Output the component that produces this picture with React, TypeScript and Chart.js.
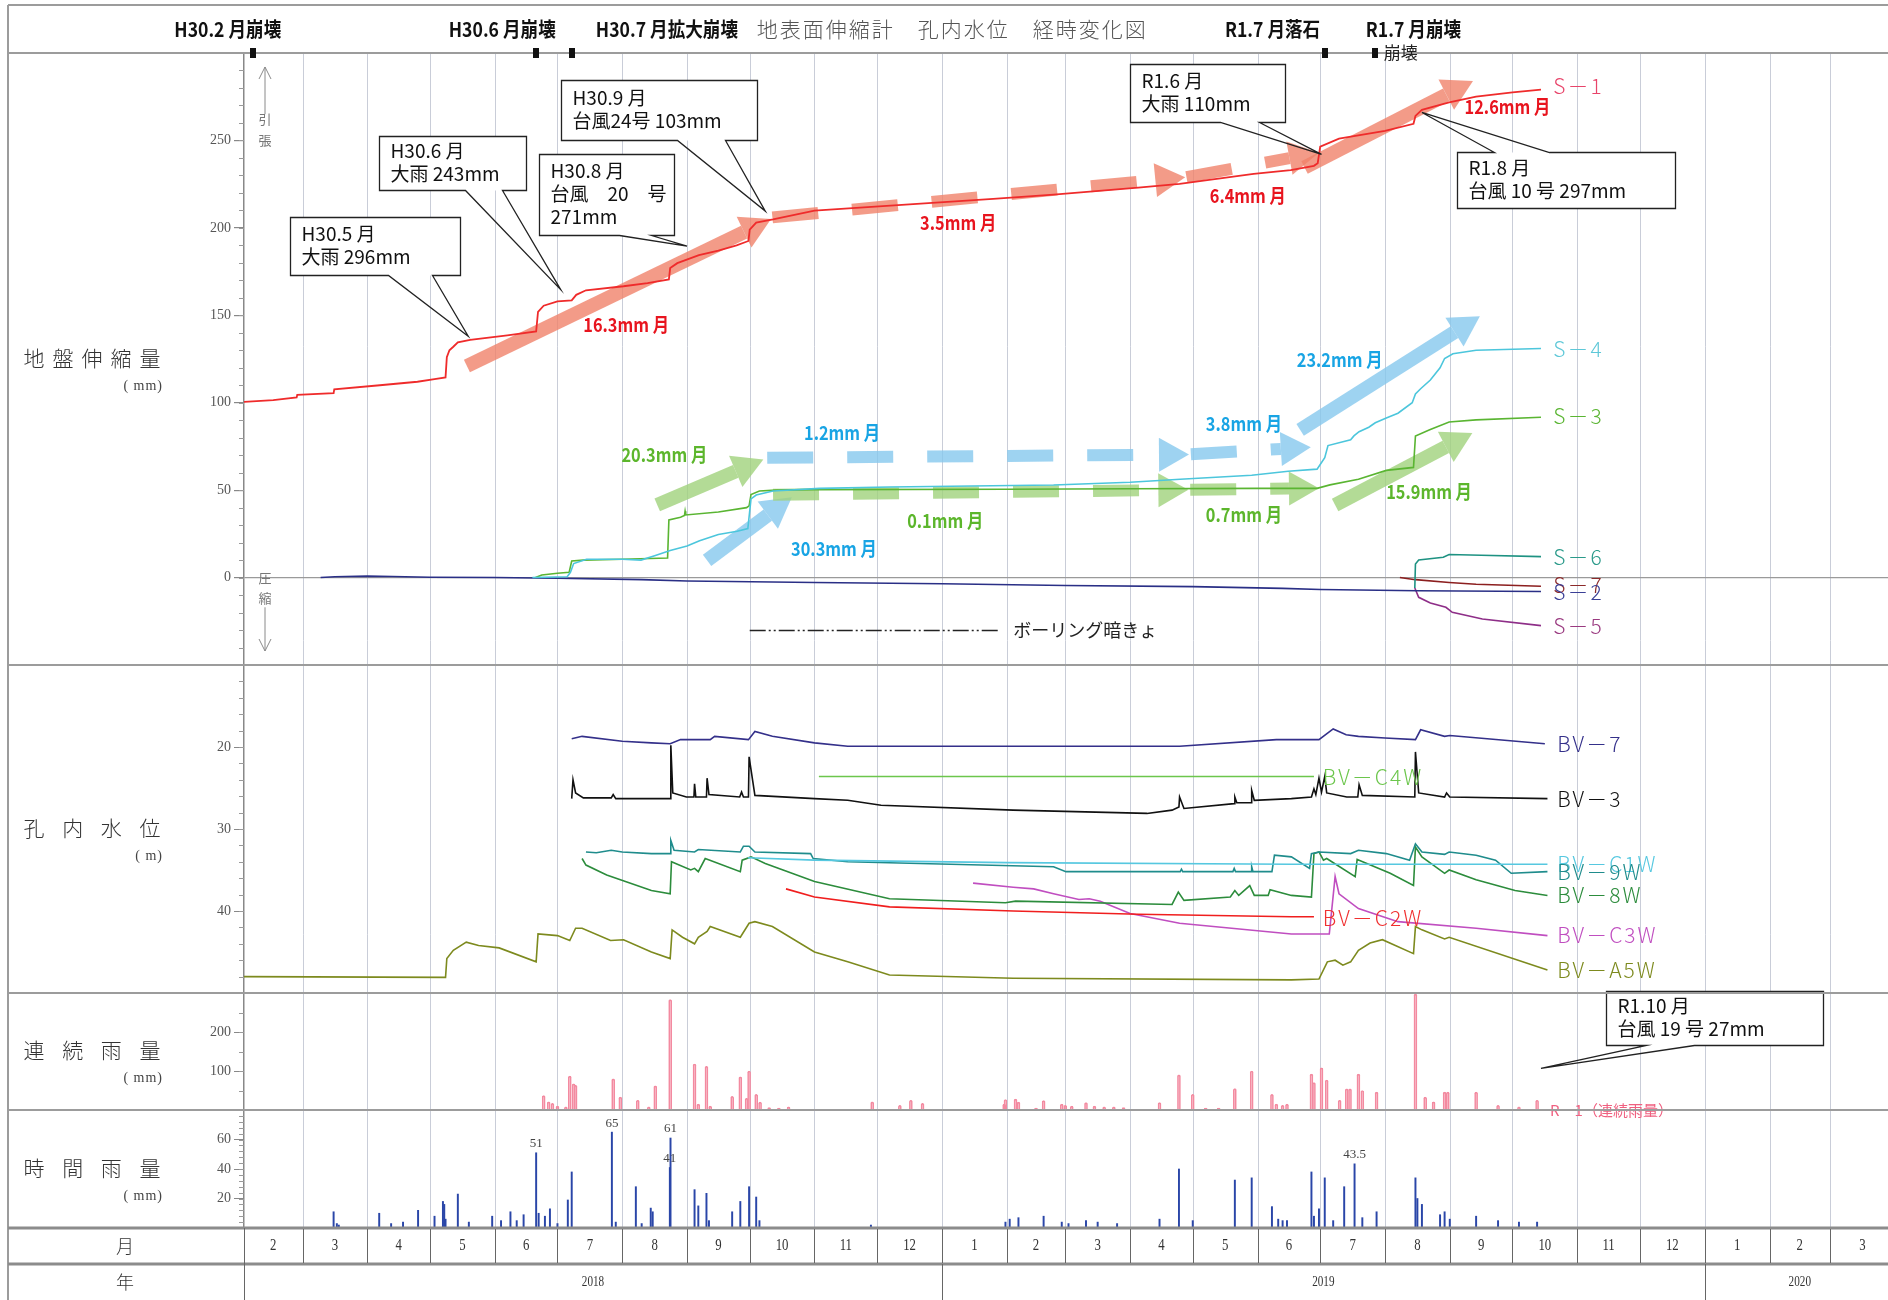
import { useEffect, useRef } from 'react';
import { Chart, registerables } from 'chart.js';

Chart.register(...registerables);
Chart.defaults.font.family = 'Liberation Serif';

type Pt = [number, number];

// x values are months counted from 1 Feb 2018 (0 = Feb 2018, 11 = Jan 2019, 23 = Jan 2020)
const MONTH_LABELS = ['2', '3', '4', '5', '6', '7', '8', '9', '10', '11', '12', '1', '2', '3', '4', '5', '6', '7', '8', '9', '10', '11', '12', '1', '2', '3'];
const YEAR_LABELS = ['2018', '2019', '2020'];
const YEAR_STARTS = [0, 11, 23, 26];

const GROUND_TICKS = [0, 50, 100, 150, 200, 250];
const WATER_TICKS = [20, 30, 40];
const CONT_RAIN_TICKS = [100, 200];
const HOURLY_TICKS = [20, 40, 60];

// 地盤伸縮量 (mm)
const S1: Pt[] = [
  [0, 100.5], [0.5, 101.5], [0.9, 103], [0.91, 104.5], [1.48, 105.5], [1.49, 107.7], [2.2, 110], [2.8, 112], [3.07, 113.5],
  [3.24, 114.5], [3.26, 126], [3.3, 130], [3.36, 132], [3.43, 134.5], [3.62, 136], [4.2, 138.5], [4.66, 140.8], [4.69, 152],
  [4.78, 155.5], [5.0, 158], [5.22, 158.5], [5.29, 161.7], [5.44, 164.3], [6.02, 166.6], [6.39, 168.4], [6.72, 170.5],
  [6.74, 177], [6.85, 179.8], [7.19, 184.4], [7.5, 187], [7.79, 190], [7.98, 192.5], [8.0, 199], [8.1, 203], [8.36, 204.8],
  [9.0, 209.8], [10.32, 213], [11.79, 216.6], [12.8, 219], [14.13, 223], [14.79, 225.2], [15.94, 230.9], [16.53, 233],
  [16.9, 235.5], [16.96, 237], [17.0, 246.5], [17.29, 251], [18.0, 255.5], [18.44, 259.5], [18.47, 264], [18.57, 267.5],
  [18.99, 271.8], [19.42, 275], [20.0, 277.5], [20.44, 279],
];
const S4: Pt[] = [
  [4.6, 0], [5.15, 0.5], [5.2, 3], [5.25, 8], [5.45, 10.5], [6.0, 10.5], [6.29, 10], [6.5, 12.5], [6.74, 15.5], [7.0, 18],
  [7.2, 21], [7.5, 24.6], [7.8, 26.5], [7.97, 28], [8.02, 45], [8.1, 47.2], [8.36, 49.5], [9.08, 51], [10.19, 51.8],
  [12.8, 52.9], [14.0, 54.5], [14.8, 56.2], [15.91, 58.5], [16.49, 60.8], [16.95, 62], [17.07, 68.6], [17.12, 75.5],
  [17.47, 78.8], [17.52, 81], [17.6, 83.4], [17.75, 86], [17.85, 88.5], [18.02, 91.3], [18.2, 94], [18.42, 100],
  [18.47, 105], [18.55, 108], [18.7, 113], [18.85, 120], [18.92, 125.3], [19.05, 128], [19.42, 130], [20.44, 131],
];
const S3: Pt[] = [
  [4.65, 0], [4.75, 1.5], [5.0, 2.5], [5.18, 3], [5.22, 9.5], [5.4, 10], [6.0, 10.5], [6.7, 11.2], [6.72, 33], [6.9, 34.5],
  [6.96, 35.5], [6.97, 38], [6.98, 35.8], [7.5, 37.5], [7.95, 40], [7.99, 41], [8.02, 47.5], [8.15, 49.5], [8.4, 50],
  [9.0, 50.3], [12.0, 50.5], [14.0, 50.8], [16.0, 51], [16.95, 51], [17.15, 53], [17.59, 56.2], [18.02, 61.3], [18.44, 63],
  [18.47, 81], [18.69, 84.5], [18.99, 89], [19.42, 90.2], [20.44, 91.7],
];
const S2: Pt[] = [
  [1.28, 0], [1.5, 0.5], [2.0, 0.8], [2.4, 0.6], [3.0, 0.2], [4.0, 0], [5.0, -0.4], [6.3, -1.2], [7.0, -2.0], [9.0, -2.8],
  [11.0, -3.5], [13.0, -4.5], [15.0, -5.2], [16.4, -6.2], [17.0, -6.8], [18.5, -7.5], [20.44, -8.0],
];
const S7: Pt[] = [[18.23, 0], [18.47, -1.2], [18.99, -2.8], [19.42, -3.8], [20.44, -5.0]];
const S6: Pt[] = [[18.46, -6], [18.47, 7.8], [18.52, 10.1], [18.9, 11.6], [18.99, 13.2], [19.5, 12.8], [20.44, 12]];
const S5: Pt[] = [[18.46, -6], [18.52, -11.3], [18.7, -14.5], [18.94, -17], [19.04, -19.9], [19.52, -23.7], [20.44, -27.5]];

// 孔内水位 (m, depth)
const BV7: Pt[] = [
  [5.22, 19.0], [5.38, 18.7], [6.0, 19.3], [6.45, 19.5], [6.74, 19.6], [6.9, 19.1], [7.37, 19.1], [7.44, 18.7],
  [7.98, 19.1], [8.08, 18.1], [8.35, 18.7], [9.0, 19.5], [9.53, 19.9], [14.79, 19.9], [16.3, 19.1], [16.98, 19.1],
  [17.2, 17.8], [17.4, 18.5], [17.59, 18.7], [18.0, 18.9], [18.47, 19.1], [18.55, 17.9], [18.92, 18.7], [19.0, 18.6],
  [20.5, 19.6],
];
const BV3: Pt[] = [
  [5.22, 26.3], [5.24, 24.0], [5.28, 25.6], [5.4, 26.2], [5.83, 26.2], [5.86, 25.8], [5.9, 26.3], [6.74, 26.3], [6.75, 19.8],
  [6.78, 25.6], [6.99, 26.1], [7.11, 26.1], [7.12, 24.5], [7.14, 26.1], [7.31, 26.1], [7.32, 23.8], [7.35, 25.8],
  [7.84, 26.1], [7.87, 25.5], [7.9, 26.1], [7.98, 26.1], [7.99, 21.2], [8.08, 25.9], [9.0, 26.3], [9.53, 26.5],
  [10.06, 27.1], [12.11, 27.7], [14.27, 28.1], [14.67, 27.7], [14.78, 27.3], [14.79, 26.1], [14.86, 27.5], [15.64, 26.9],
  [15.65, 26.1], [15.68, 26.8], [15.9, 26.8], [15.91, 25.3], [15.95, 26.5], [16.54, 26.3], [16.86, 26.1], [16.9, 25.1],
  [16.93, 25.8], [16.98, 23.8], [17.02, 25.5], [17.07, 23.6], [17.1, 25.6], [17.41, 26.1], [17.58, 26.1], [17.6, 24.6],
  [17.65, 25.9], [18.46, 26.1], [18.47, 20.6], [18.52, 25.6], [18.92, 26.1], [18.95, 25.6], [19.0, 26.1], [20.54, 26.3],
];
const BVC4W: Pt[] = [[9.07, 23.6], [16.9, 23.6]];
const BV9W: Pt[] = [
  [5.44, 32.8], [5.6, 32.9], [5.83, 32.6], [6.0, 32.8], [6.45, 33.0], [6.74, 33.0], [6.75, 31.4], [6.8, 32.6], [7.12, 32.8],
  [7.18, 32.5], [7.85, 32.8], [7.9, 32.1], [7.99, 32.1], [8.08, 32.8], [8.94, 33.0], [8.98, 33.6], [9.53, 34.0], [12.8, 34.6],
  [13.01, 35.2], [14.8, 35.2], [14.82, 34.9], [14.84, 35.2], [15.62, 35.2], [15.64, 34.8], [15.66, 35.2], [15.9, 35.2],
  [15.91, 34.6], [15.93, 35.2], [16.23, 35.2], [16.27, 33.2], [16.54, 33.4], [16.83, 34.8], [16.86, 33.0], [16.98, 32.8],
  [17.47, 33.0], [17.59, 32.6], [18.02, 33.0], [18.38, 33.8], [18.47, 31.8], [18.57, 32.8], [18.92, 33.1], [18.99, 32.8],
  [19.42, 33.2], [19.73, 33.8], [19.98, 35.4], [20.54, 35.2],
];
const BVC1W: Pt[] = [[7.97, 33.5], [9.0, 33.8], [12.0, 34.1], [16.54, 34.3], [20.54, 34.3]];
const BV8W: Pt[] = [
  [5.38, 33.6], [5.44, 34.4], [5.76, 35.6], [6.45, 37.5], [6.74, 37.9], [6.76, 34.0], [7.06, 35.0], [7.12, 34.8],
  [7.18, 35.2], [7.29, 33.6], [7.85, 35.2], [7.88, 33.8], [8.02, 33.4], [8.24, 34.2], [9.0, 36.4], [10.19, 38.5],
  [11.98, 39.0], [12.15, 38.8], [14.67, 39.2], [14.77, 37.7], [14.86, 38.7], [15.58, 38.3], [15.65, 37.5], [15.71, 38.1],
  [15.88, 36.9], [15.95, 38.1], [16.17, 38.1], [16.2, 37.4], [16.54, 38.1], [16.86, 38.3], [16.9, 33.0], [16.98, 32.8],
  [17.05, 33.8], [17.1, 33.6], [17.54, 35.8], [17.57, 33.7], [17.6, 33.8], [18.08, 35.4], [18.44, 36.9], [18.47, 32.2],
  [18.57, 33.4], [18.92, 35.4], [18.99, 35.0], [19.42, 36.2], [20.04, 37.5], [20.54, 38.1],
];
const BVC2W: Pt[] = [[8.56, 37.3], [9.0, 38.3], [10.19, 39.5], [12.11, 40.0], [14.13, 40.4], [16.54, 40.7], [16.9, 40.7]];
const BVC3W: Pt[] = [
  [11.48, 36.6], [12.11, 37.1], [12.46, 37.3], [12.8, 37.9], [13.21, 38.6], [13.37, 38.5], [13.54, 38.8], [14.0, 40.3],
  [14.79, 41.5], [16.54, 42.8], [17.14, 42.8], [17.23, 35.8], [17.29, 37.9], [17.59, 39.7], [18.2, 41.3], [19.42, 42.1],
  [20.54, 43.0],
];
const BVA5W: Pt[] = [
  [0, 48.0], [3.24, 48.1], [3.26, 45.8], [3.36, 44.8], [3.56, 43.8], [3.75, 44.2], [4.07, 44.5], [4.66, 46.2], [4.69, 42.8],
  [5.0, 43.0], [5.19, 43.6], [5.28, 42.1], [5.38, 42.1], [5.82, 43.6], [6.02, 43.5], [6.45, 45.0], [6.74, 45.8],
  [6.77, 42.3], [6.93, 43.2], [7.12, 44.0], [7.18, 43.2], [7.32, 42.5], [7.37, 41.9], [7.85, 43.2], [7.99, 41.5],
  [8.08, 41.3], [8.35, 41.9], [9.0, 45.0], [9.53, 46.2], [10.19, 47.8], [12.11, 48.2], [16.54, 48.4], [16.98, 48.3],
  [17.11, 46.2], [17.23, 46.0], [17.35, 46.6], [17.47, 46.2], [17.59, 44.8], [17.77, 43.9], [17.96, 43.5], [18.44, 45.2],
  [18.47, 41.9], [18.57, 42.3], [18.92, 43.4], [18.99, 43.2], [20.54, 47.2],
];

// 連続雨量 (mm)
const CONT_RAIN: Pt[] = [
  [4.78, 37], [4.86, 21], [4.92, 17], [5.0, 10], [5.13, 8], [5.19, 87], [5.25, 67], [5.28, 63], [5.86, 80], [5.97, 33],
  [6.24, 25], [6.41, 8], [6.51, 62], [6.74, 283], [7.12, 118], [7.18, 15], [7.31, 112], [7.37, 10], [7.72, 35], [7.85, 85],
  [7.95, 30], [7.99, 100], [8.1, 40], [8.16, 20], [8.3, 6], [8.45, 5], [8.6, 8], [9.92, 21], [10.35, 12], [10.52, 25],
  [10.7, 17], [11.96, 15], [11.98, 27], [12.15, 28], [12.2, 20], [12.5, 5], [12.63, 24], [12.94, 15], [13.0, 12],
  [13.1, 10], [13.32, 19], [13.45, 10], [13.6, 8], [13.75, 8], [13.9, 6], [14.47, 19], [14.78, 90], [15.0, 40], [15.2, 5],
  [15.4, 5], [15.65, 55], [15.91, 100], [16.23, 40], [16.3, 15], [16.4, 12], [16.47, 15], [16.86, 92], [16.9, 70],
  [17.02, 108], [17.1, 77], [17.3, 25], [17.41, 54], [17.46, 54], [17.59, 92], [17.65, 50], [17.87, 46], [18.47, 297],
  [18.62, 33], [18.75, 21], [18.92, 46], [18.97, 46], [19.42, 46], [19.77, 12], [20.1, 8], [20.38, 25],
];

// 時間雨量 (mm)
const HOURLY_RAIN: Pt[] = [
  [1.48, 11], [1.53, 3], [1.56, 2], [2.19, 10], [2.38, 3], [2.57, 4], [2.81, 12], [3.07, 8], [3.2, 18], [3.22, 16],
  [3.24, 6], [3.43, 23], [3.6, 4], [3.96, 8], [4.1, 5], [4.25, 11], [4.35, 5], [4.46, 9], [4.66, 51], [4.7, 10], [4.8, 8],
  [4.88, 13], [5.0, 3], [5.16, 19], [5.22, 38], [5.84, 65], [5.9, 4], [6.21, 28], [6.3, 3], [6.44, 13.5], [6.47, 11],
  [6.735, 41], [6.745, 61], [7.12, 26], [7.18, 15], [7.31, 23.5], [7.35, 5], [7.72, 11], [7.85, 18], [7.99, 28], [8.1, 21],
  [8.15, 5], [9.9, 2], [11.98, 4], [12.05, 6], [12.2, 7], [12.63, 8], [12.94, 4], [13.05, 3], [13.32, 5], [13.5, 4],
  [13.8, 3], [14.47, 6], [14.78, 40], [15.0, 5], [15.65, 32.5], [15.91, 34], [16.23, 14.5], [16.33, 6], [16.4, 5],
  [16.47, 5], [16.86, 38], [16.9, 8], [16.98, 13], [17.07, 34], [17.2, 5], [17.37, 28], [17.53, 43.5], [17.65, 7],
  [17.87, 11], [18.47, 34], [18.5, 20], [18.57, 16], [18.85, 9], [18.92, 11], [19.0, 6], [19.42, 8], [19.77, 5],
  [20.1, 4], [20.38, 4],
];
const HOURLY_LABELLED = [51, 65, 61, 41, 43.5];

// header events (崩壊 / 落石)
const EVENT_MARKS = [0.15, 4.65, 5.22, 17.08, 17.85];
const EVENT_TEXTS = [
  { text: 'H30.2 月崩壊', at: -0.25 },
  { text: 'H30.6 月崩壊', at: 4.12 },
  { text: 'H30.7 月拡大崩壊', at: 6.69 },
  { text: 'R1.7 月落石', at: 16.24 },
  { text: 'R1.7 月崩壊', at: 18.44 },
];

const RED_A = '#f0826a';
const BLUE_A = '#86c8ee';
const GREEN_A = '#a0d27c';
const RED_T = '#e8141e';
const BLUE_T = '#18a4e4';
const GREEN_T = '#5cb62c';

// trend arrows on the ground-movement panel (month, mm)
const TREND_ARROWS = [
  { from: [3.57, 121], to: [8.33, 205], color: RED_A, dashed: false },
  { from: [8.35, 206], to: [14.88, 229], color: RED_A, dashed: true },
  { from: [14.9, 229], to: [16.98, 243], color: RED_A, dashed: true },
  { from: [16.75, 234.5], to: [19.37, 284], color: RED_A, dashed: false },
  { from: [7.32, 9.8], to: [8.65, 46], color: BLUE_A, dashed: false },
  { from: [8.27, 68.5], to: [14.94, 70.4], color: BLUE_A, dashed: true },
  { from: [14.97, 70.5], to: [16.85, 74.6], color: BLUE_A, dashed: true },
  { from: [16.68, 84.5], to: [19.48, 149.5], color: BLUE_A, dashed: false },
  { from: [6.54, 41.6], to: [8.21, 67.5], color: GREEN_A, dashed: false },
  { from: [8.36, 47.4], to: [14.93, 50.2], color: GREEN_A, dashed: true },
  { from: [14.96, 50.2], to: [16.98, 51.1], color: GREEN_A, dashed: true },
  { from: [17.23, 41.5], to: [19.36, 82.7], color: GREEN_A, dashed: false },
];
const TREND_LABELS = [
  { text: '16.3mm 月', at: [6.06, 144.3], color: RED_T },
  { text: '3.5mm 月', at: [11.25, 203], color: RED_T },
  { text: '6.4mm 月', at: [15.85, 218.2], color: RED_T },
  { text: '12.6mm 月', at: [19.92, 269.3], color: RED_T },
  { text: '20.3mm 月', at: [6.65, 70.4], color: GREEN_T },
  { text: '1.2mm 月', at: [9.44, 82.9], color: BLUE_T },
  { text: '30.3mm 月', at: [9.31, 16.6], color: BLUE_T },
  { text: '0.1mm 月', at: [11.05, 32.5], color: GREEN_T },
  { text: '3.8mm 月', at: [15.79, 87.7], color: BLUE_T },
  { text: '0.7mm 月', at: [15.79, 35.9], color: GREEN_T },
  { text: '23.2mm 月', at: [17.3, 124.3], color: BLUE_T },
  { text: '15.9mm 月', at: [18.68, 49], color: GREEN_T },
];

// callouts: tip in data units, box = [dx, dy, w, h] from the tip in px, base = wedge roots along the box edge
const CALLOUTS = [
  { axis: 'yG', tip: [3.59, 138], box: [-178, -119, 170, 58], base: [98, 142], side: 'bottom', lines: ['H30.5 月', '大雨 296mm'] },
  { axis: 'yG', tip: [5.05, 164.7], box: [-182, -154, 147, 54], base: [86, 123], side: 'bottom', lines: ['H30.6 月', '大雨 243mm'] },
  { axis: 'yG', tip: [7.0, 189.5], box: [-148, -92, 135, 81], base: [80, 112], side: 'bottom', lines: ['H30.8 月', '台風　20　号', '271mm'] },
  { axis: 'yG', tip: [8.24, 209.6], box: [-204, -131, 196, 60], base: [116, 164], side: 'bottom', lines: ['H30.9 月', '台風24号 103mm'] },
  { axis: 'yG', tip: [17.02, 242], box: [-192, -90, 155, 58], base: [90, 129], side: 'bottom', lines: ['R1.6 月', '大雨 110mm'] },
  { axis: 'yG', tip: [18.57, 266], box: [35, 40, 218, 56], base: [37, 92], side: 'top', lines: ['R1.8 月', '台風 10 号 297mm'] },
  { axis: 'yR', tip: [20.44, 107], box: [65, -77, 217, 54], base: [40, 88], side: 'bottom', lines: ['R1.10 月', '台風 19 号 27mm'] },
];

const SERIES = [
  { name: 'S－1', data: S1, color: '#ef2b2b', tag: '#e8446a', axis: 'yG', at: [20.63, 281] },
  { name: 'S－4', data: S4, color: '#4cc6dc', tag: '#5ec8d8', axis: 'yG', at: [20.63, 130.5] },
  { name: 'S－3', data: S3, color: '#5ab532', tag: '#5ab532', axis: 'yG', at: [20.63, 92.5] },
  { name: 'S－6', data: S6, color: '#1e9282', tag: '#2a9a8a', axis: 'yG', at: [20.63, 11.7] },
  { name: 'S－7', data: S7, color: '#8c1f1f', tag: '#8c2a2a', axis: 'yG', at: [20.63, -4.1] },
  { name: 'S－2', data: S2, color: '#2a2f86', tag: '#3a3f96', axis: 'yG', at: [20.63, -8.3] },
  { name: 'S－5', data: S5, color: '#8e2e88', tag: '#9a3a80', axis: 'yG', at: [20.63, -27.6] },
  { name: 'BV－7', data: BV7, color: '#34308a', tag: '#34308a', axis: 'yW', at: [20.69, 19.6] },
  { name: 'BV－C4W', data: BVC4W, color: '#6cc64c', tag: '#6cc64c', axis: 'yW', at: [17.04, 23.7] },
  { name: 'BV－3', data: BV3, color: '#111111', tag: '#111111', axis: 'yW', at: [20.69, 26.3] },
  { name: 'BV－C1W', data: BVC1W, color: '#56c8e0', tag: '#56c8e0', axis: 'yW', at: [20.69, 34.3] },
  { name: 'BV－9W', data: BV9W, color: '#1f8c8c', tag: '#1f8c8c', axis: 'yW', at: [20.69, 35.3] },
  { name: 'BV－8W', data: BV8W, color: '#2c8c3c', tag: '#2c8c3c', axis: 'yW', at: [20.69, 38.1] },
  { name: 'BV－C2W', data: BVC2W, color: '#f01e1e', tag: '#f03030', axis: 'yW', at: [17.04, 40.9] },
  { name: 'BV－C3W', data: BVC3W, color: '#c04ec0', tag: '#c04ec0', axis: 'yW', at: [20.69, 42.9] },
  { name: 'BV－A5W', data: BVA5W, color: '#7d8a1e', tag: '#7d8a1e', axis: 'yW', at: [20.69, 47.2] },
];

const X_MAX = 786.7;

function monthToDay(m: number): number {
  const i = Math.floor(m);
  const base = Date.UTC(2018, 1, 1);
  const start = Date.UTC(2018, 1 + i, 1);
  const next = Date.UTC(2018, 2 + i, 1);
  return (start - base) / 86400000 + (m - i) * ((next - start) / 86400000);
}

const toXY = (pts: Pt[]) => pts.map(([m, v]) => ({ x: monthToDay(m), y: v }));

const CJK = '"Noto Sans CJK JP"';

function drawText(ctx: any, s: string, x: number, y: number, font: string, color: string, align = 'center', sx = 1, spacing = '0px') {
  ctx.save();
  ctx.font = font;
  ctx.fillStyle = color;
  ctx.textAlign = align;
  ctx.textBaseline = 'middle';
  ctx.letterSpacing = spacing;
  ctx.translate(x, y);
  ctx.scale(sx, 1);
  ctx.fillText(s, 0, 0);
  ctx.restore();
}

function hline(ctx: any, y: number, x1: number, x2: number) {
  ctx.beginPath();
  ctx.moveTo(x1, y);
  ctx.lineTo(x2, y);
  ctx.stroke();
}
function vline(ctx: any, x: number, y1: number, y2: number) {
  ctx.beginPath();
  ctx.moveTo(x, y1);
  ctx.lineTo(x, y2);
  ctx.stroke();
}

function drawArrow(ctx: any, x1: number, y1: number, x2: number, y2: number, color: string, dashed: boolean) {
  const ang = Math.atan2(y2 - y1, x2 - x1);
  const headLen = 30;
  const headHalf = 17;
  const bx = x2 - headLen * Math.cos(ang);
  const by = y2 - headLen * Math.sin(ang);
  ctx.strokeStyle = color;
  ctx.fillStyle = color;
  ctx.lineWidth = dashed ? 12 : 14;
  ctx.lineCap = 'butt';
  ctx.setLineDash(dashed ? [46, 34] : []);
  ctx.beginPath();
  ctx.moveTo(x1, y1);
  ctx.lineTo(bx, by);
  ctx.stroke();
  ctx.setLineDash([]);
  const nx = -Math.sin(ang);
  const ny = Math.cos(ang);
  ctx.beginPath();
  ctx.moveTo(x2, y2);
  ctx.lineTo(bx + nx * headHalf, by + ny * headHalf);
  ctx.lineTo(bx - nx * headHalf, by - ny * headHalf);
  ctx.closePath();
  ctx.fill();
}

const panelsPlugin = {
  id: 'panels',
  beforeDraw(chart: any) {
    const { ctx, chartArea: area } = chart;
    const xs = chart.scales.x;
    ctx.save();
    ctx.fillStyle = '#ffffff';
    ctx.fillRect(0, 0, chart.width, chart.height);
    ctx.strokeStyle = '#c9cdd8';
    ctx.lineWidth = 1;
    for (let m = 1; m < MONTH_LABELS.length; m++) {
      const x = Math.round(xs.getPixelForValue(monthToDay(m))) + 0.5;
      vline(ctx, x, area.top, area.bottom);
    }
    ctx.restore();
  },
  beforeDatasetsDraw(chart: any) {
    const { ctx } = chart;
    const xs = chart.scales.x;
    const yG = chart.scales.yG;
    ctx.save();
    ctx.globalAlpha = 0.8;
    for (const a of TREND_ARROWS) {
      drawArrow(
        ctx,
        xs.getPixelForValue(monthToDay(a.from[0])), yG.getPixelForValue(a.from[1]),
        xs.getPixelForValue(monthToDay(a.to[0])), yG.getPixelForValue(a.to[1]),
        a.color, a.dashed,
      );
    }
    ctx.restore();
  },
  afterDraw(chart: any) {
    const { ctx, chartArea: area } = chart;
    const W = chart.width;
    const H = chart.height;
    const xs = chart.scales.x;
    const { yG, yW, yR, yH } = chart.scales;
    const X = (m: number) => xs.getPixelForValue(monthToDay(m));
    ctx.save();

    // minor ticks on each panel axis
    ctx.strokeStyle = '#9a9a9a';
    ctx.lineWidth = 1;
    const minors: [any, number, number, number][] = [[yG, -50, 300, 10], [yW, 10, 50, 2], [yR, 0, 300, 50], [yH, 0, 80, 4]];
    for (const [s, lo, hi, st] of minors) {
      for (let v = lo; v <= hi; v += st) {
        const y = Math.round(s.getPixelForValue(v)) + 0.5;
        hline(ctx, y, area.left - 5, area.left);
      }
    }

    // 引張 / 圧縮 indicators
    const ix = area.left + 21;
    ctx.strokeStyle = '#8a8a8a';
    ctx.lineWidth = 1;
    const up1 = yG.getPixelForValue(292);
    const up2 = yG.getPixelForValue(265);
    vline(ctx, ix, up1, up2);
    ctx.beginPath();
    ctx.moveTo(ix - 6, up1 + 12); ctx.lineTo(ix, up1); ctx.lineTo(ix + 6, up1 + 12);
    ctx.stroke();
    drawText(ctx, '引', ix, yG.getPixelForValue(262), `13px ${CJK}`, '#777');
    drawText(ctx, '張', ix, yG.getPixelForValue(250), `13px ${CJK}`, '#777');
    drawText(ctx, '圧', ix, yG.getPixelForValue(0), `13px ${CJK}`, '#777');
    drawText(ctx, '縮', ix, yG.getPixelForValue(-12), `13px ${CJK}`, '#777');
    const dn1 = yG.getPixelForValue(-17);
    const dn2 = yG.getPixelForValue(-42);
    vline(ctx, ix, dn1, dn2);
    ctx.beginPath();
    ctx.moveTo(ix - 6, dn2 - 12); ctx.lineTo(ix, dn2); ctx.lineTo(ix + 6, dn2 - 12);
    ctx.stroke();

    // trend rate labels
    for (const t of TREND_LABELS) {
      drawText(ctx, t.text, X(t.at[0]), yG.getPixelForValue(t.at[1]), `bold 19px ${CJK}`, t.color, 'center', 0.86);
    }

    // callouts
    for (const c of CALLOUTS) {
      const sc = chart.scales[c.axis];
      const tx = X(c.tip[0]);
      const ty = sc.getPixelForValue(c.tip[1]);
      const [dx, dy, w, h] = c.box;
      const bx = Math.round(tx + dx) + 0.5;
      const by = Math.round(ty + dy) + 0.5;
      ctx.fillStyle = '#ffffff';
      ctx.fillRect(bx, by, w, h);
      ctx.beginPath();
      if (c.side === 'bottom') {
        ctx.moveTo(bx, by); ctx.lineTo(bx + w, by); ctx.lineTo(bx + w, by + h);
        ctx.lineTo(bx + c.base[1], by + h); ctx.lineTo(tx, ty); ctx.lineTo(bx + c.base[0], by + h);
        ctx.lineTo(bx, by + h); ctx.closePath();
      } else {
        ctx.moveTo(bx, by); ctx.lineTo(bx + c.base[0], by); ctx.lineTo(tx, ty); ctx.lineTo(bx + c.base[1], by);
        ctx.lineTo(bx + w, by); ctx.lineTo(bx + w, by + h); ctx.lineTo(bx, by + h); ctx.closePath();
      }
      ctx.strokeStyle = '#222';
      ctx.lineWidth = 1.3;
      ctx.stroke();
      const step = 23;
      const first = by + (h - (c.lines.length - 1) * step) / 2 - 1;
      c.lines.forEach((ln, i) => drawText(ctx, ln, bx + 11, first + i * step, `19px ${CJK}`, '#111', 'left'));
    }

    // series tags
    for (const s of SERIES) {
      const sc = chart.scales[s.axis];
      drawText(ctx, s.name, X(s.at[0]), sc.getPixelForValue(s.at[1]), `300 21px ${CJK}`, s.tag, 'left', 1, '2px');
    }

    // boring drain legend key
    const ly = Math.round(yG.getPixelForValue(-29.7)) + 0.5;
    ctx.strokeStyle = '#222';
    ctx.lineWidth = 1.5;
    ctx.setLineDash([16, 3, 2, 3, 2, 3]);
    hline(ctx, ly, X(8.0), X(11.89));
    ctx.setLineDash([]);
    drawText(ctx, 'ボーリング暗きょ', X(12.11), ly, `18px ${CJK}`, '#222', 'left');

    // hourly peak values
    for (const [m, v] of HOURLY_RAIN) {
      if (HOURLY_LABELLED.indexOf(v) >= 0) {
        drawText(ctx, String(v), X(m), yH.getPixelForValue(v) - 9, '13px "Liberation Serif"', '#444');
      }
    }
    drawText(ctx, 'R　1（連続雨量）', X(20.58), yR.bottom, `15px ${CJK}`, '#f06080', 'left');

    // frame lines
    ctx.strokeStyle = '#9c9c9c';
    ctx.lineWidth = 2;
    hline(ctx, 5, 8, W);
    vline(ctx, 8, 5, H);
    hline(ctx, yG.top, 8, W);
    hline(ctx, yG.bottom, 8, W);
    hline(ctx, yW.bottom, 8, W);
    hline(ctx, yR.bottom, 8, W);
    const rowTop = yH.bottom;
    const rowMid = rowTop + 36;
    ctx.strokeStyle = '#8c8c8c';
    ctx.lineWidth = 3;
    hline(ctx, rowTop, 8, W);
    hline(ctx, rowMid, 8, W);
    ctx.strokeStyle = '#666';
    ctx.lineWidth = 1;
    vline(ctx, Math.round(area.left) + 0.5, rowTop, H);
    for (let m = 1; m < MONTH_LABELS.length; m++) {
      vline(ctx, Math.round(X(m)) + 0.5, rowTop + 1, rowMid - 1);
    }
    vline(ctx, Math.round(X(11)) + 0.5, rowMid, H);
    vline(ctx, Math.round(X(23)) + 0.5, rowMid, H);

    // month / year rows
    MONTH_LABELS.forEach((lab, i) => {
      drawText(ctx, lab, X(i + 0.5), rowTop + 18, '16px "Liberation Serif"', '#333', 'center', 0.8);
    });
    YEAR_LABELS.forEach((lab, i) => {
      drawText(ctx, lab, (X(YEAR_STARTS[i]) + X(YEAR_STARTS[i + 1])) / 2, rowMid + 18, '14px "Liberation Serif"', '#333', 'center', 0.8);
    });
    drawText(ctx, '月', 125, rowTop + 18, `300 18px ${CJK}`, '#333');
    drawText(ctx, '年', 125, rowMid + 18, `300 18px ${CJK}`, '#333');

    // panel titles in the left column
    const titles: [any, string, string][] = [[yG, '地盤伸縮量', '( mm)'], [yW, '孔内水位', '( m)'], [yR, '連続雨量', '( mm)'], [yH, '時間雨量', '( mm)']];
    for (const [s, t, u] of titles) {
      const mid = (s.top + s.bottom) / 2 - 1;
      const chars = Array.from(t);
      chars.forEach((ch, i) => {
        const cx = 34 + (116 * i) / (chars.length - 1);
        drawText(ctx, ch, cx, mid, `300 21px ${CJK}`, '#333');
      });
      drawText(ctx, u, 163, mid + 28, '14px "Liberation Serif"', '#444', 'right', 1, '1px');
    }

    // header: title, events
    drawText(ctx, '地表面伸縮計　孔内水位　経時変化図', X(11.16), 29, `300 21px ${CJK}`, '#555', 'center', 1, '2px');
    for (const e of EVENT_TEXTS) {
      drawText(ctx, e.text, X(e.at), 29, `bold 20px ${CJK}`, '#111', 'center', 0.88);
    }
    ctx.fillStyle = '#111';
    for (const m of EVENT_MARKS) {
      ctx.fillRect(Math.round(X(m)) - 3, yG.top - 5, 6, 10);
    }
    drawText(ctx, '崩壊', X(17.98), yG.top, `17px ${CJK}`, '#222', 'left');

    ctx.restore();
  },
};

function panelAxis(ticks: number[], min: number, max: number, weight: number, stackWeight: number, extra: any = {}) {
  return {
    type: 'linear',
    position: 'left',
    stack: 'panels',
    stackWeight,
    weight,
    min,
    max,
    afterBuildTicks: (s: any) => {
      s.ticks = ticks.map((v) => ({ value: v }));
    },
    afterFit: (s: any) => {
      s.width = 60;
    },
    ticks: { font: { family: 'Liberation Serif', size: 14 }, color: '#555', padding: 3 },
    grid: { drawOnChartArea: false, tickLength: 10, tickColor: '#888', lineWidth: 1 },
    border: { display: true, color: '#888', width: 1.5 },
    ...extra,
  };
}

export default function App() {
  const ref = useRef<HTMLCanvasElement>(null);

  useEffect(() => {
    const canvas = ref.current;
    if (!canvas) return;

    const lineSets = SERIES.map((s) => ({
      type: 'line',
      label: s.name,
      data: toXY(s.data),
      borderColor: s.color,
      borderWidth: s.name === 'S－1' ? 1.8 : 1.6,
      pointRadius: 0,
      fill: false,
      tension: 0,
      yAxisID: s.axis,
    }));

    const chart = new Chart(canvas, {
      type: 'line',
      data: {
        datasets: [
          ...lineSets,
          {
            type: 'bar',
            label: '連続雨量',
            data: toXY(CONT_RAIN),
            yAxisID: 'yR',
            grouped: false,
            barThickness: 3,
            backgroundColor: 'rgba(255,255,255,0)',
            borderColor: '#f38aa0',
            borderWidth: 1,
            borderSkipped: 'bottom',
            borderRadius: { topLeft: 1.5, topRight: 1.5 },
          },
          {
            type: 'bar',
            label: '時間雨量',
            data: toXY(HOURLY_RAIN),
            yAxisID: 'yH',
            grouped: false,
            barThickness: 1.3,
            backgroundColor: '#2a46a8',
            borderWidth: 0,
          },
        ] as any,
      },
      options: {
        responsive: false,
        animation: false,
        devicePixelRatio: 1,
        layout: { padding: { left: 184, top: 53, right: 0, bottom: 72 } },
        plugins: { legend: { display: false }, tooltip: { enabled: false } },
        scales: {
          x: { type: 'linear', min: 0, max: X_MAX, display: false, offset: false, grid: { offset: false } },
          yG: panelAxis(GROUND_TICKS, -50, 300, 4, 612, {
            grid: {
              drawOnChartArea: true,
              tickLength: 10,
              lineWidth: 1.2,
              tickColor: '#888',
              color: (c: any) => (c.tick && c.tick.value === 0 ? '#9a9a9a' : 'rgba(0,0,0,0)'),
            },
          }),
          yW: panelAxis(WATER_TICKS, 10, 50, 3, 328, { reverse: true }),
          yR: panelAxis(CONT_RAIN_TICKS, 0, 300, 2, 117),
          yH: panelAxis(HOURLY_TICKS, 0, 80, 1, 118),
        },
      } as any,
      plugins: [panelsPlugin],
    });

    return () => chart.destroy();
  }, []);

  return (
    <div style={{ position: 'absolute', left: 0, top: 0, width: 1888, height: 1300, background: '#fff' }}>
      <canvas ref={ref} width={1888} height={1300} style={{ display: 'block', width: 1888, height: 1300 }} />
    </div>
  );
}
